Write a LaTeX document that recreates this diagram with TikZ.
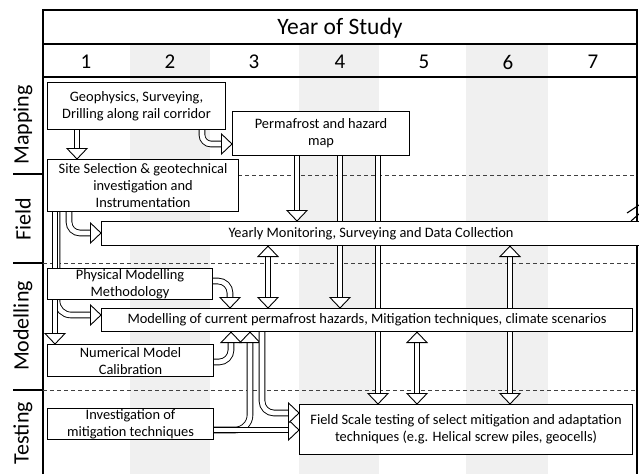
\documentclass[tikz,border=0pt]{standalone}
\usepackage{fontspec}
\setmainfont{Carlito}
\usetikzlibrary{calc}
\tikzset{
  box/.style={draw, line width=1.1pt, fill=white, align=center, inner sep=0pt,
    anchor=north west, font=\fontsize{14.4}{17}\selectfont},
  shaft/.style={line width=0.9pt, double=white, double distance=4.8pt},
  headst/.style={line width=0.9pt, fill=white, draw=black, line join=miter},
  lane/.style={rotate=90, font=\fontsize{22}{24}\selectfont},
  sepline/.style={dash pattern=on 4pt off 3pt, line width=0.7pt, draw=black!75},
  frame/.style={line width=1.4pt},
  stripe/.style={fill=black!6, draw=none},
  hnum/.style={font=\fontsize{21}{24}\selectfont},
}
\newcommand\hdD[1]{\filldraw[headst] (#1) -- ++(-10,-10.5) -- ++(20,0) -- cycle;}
\newcommand\hdU[1]{\filldraw[headst] (#1) -- ++(-10,10.5) -- ++(20,0) -- cycle;}
\newcommand\hdR[1]{\filldraw[headst] (#1) -- ++(-10.5,-10) -- ++(0,20) -- cycle;}
\begin{document}
\begin{tikzpicture}[x=1pt, y=-1pt]
\useasboundingbox (0,0) rectangle (639,474);
% column stripes
\fill[stripe] (130,44) rectangle (210,474);
\fill[stripe] (299,44) rectangle (379,474);
\fill[stripe] (466,44) rectangle (548,474);
% frame
\draw[frame] (43,474) -- (43,10) -- (637,10) -- (637,474);
\draw[frame] (43,44) -- (637,44);
\draw[frame] (43,77) -- (637,77);
\node[font=\fontsize{23.5}{26}\selectfont] (title) at (340,28) {Year of Study};
\node[hnum] (y1) at (86,62) {1};
\node[hnum] (y2) at (170,62) {2};
\node[hnum] (y3) at (254,62) {3};
\node[hnum] (y4) at (340,62) {4};
\node[hnum] (y5) at (424,62) {5};
\node[hnum] (y6) at (508,62) {6};
\node[hnum] (y7) at (593,62) {7};
% lane labels
\node[lane] (lmap) at (23,125) {Mapping};
\node[lane] (lfield) at (23,219) {Field};
\node[lane] (lmod) at (23,326) {Modelling};
\node[lane] (ltest) at (23,433) {Testing};
\draw[line width=1.1pt] (13,174) -- (43,174);
\draw[line width=1.1pt] (13,263) -- (43,263);
\draw[line width=1.1pt] (13,390) -- (43,390);
% dashed lane separators
\draw[sepline] (238,175) -- (637,175);
\draw[sepline] (43,263) -- (637,263);
\draw[sepline] (43,390) -- (637,390);
% box frames (anchors only; drawn later on top of the arrows)
\node[box, draw=none, fill=none, minimum width=178pt, minimum height=47pt] (geo) at (47,82) {};
\node[box, draw=none, fill=none, minimum width=177pt, minimum height=44pt] (perm) at (232,111) {};
\node[box, draw=none, fill=none, minimum width=191pt, minimum height=52pt] (site) at (47,159) {};
\node[box, draw=none, fill=none, minimum width=539pt, minimum height=24pt] (year) at (101,221) {};
\node[box, draw=none, fill=none, minimum width=165pt, minimum height=31pt] (phys) at (47,268) {};
\node[box, draw=none, fill=none, minimum width=531pt, minimum height=23pt] (model) at (101,308) {};
\node[box, draw=none, fill=none, minimum width=166pt, minimum height=32pt] (num) at (47,344) {};
\node[box, draw=none, fill=none, minimum width=166pt, minimum height=31pt] (inv) at (47,408) {};
\node[box, draw=none, fill=none, minimum width=333pt, minimum height=50pt] (fst) at (299,404) {};
% arrows
% geo -> site
\draw[shaft, shorten >=8pt] (77,0 |- geo.south) -- (77,0 |- site.north); \hdD{77,0 |- site.north}
% geo -> perm
\draw[shaft, rounded corners=9pt, shorten >=8pt] (202,0 |- geo.south) -- (202,144) -- (perm.west |- 0,144); \hdR{perm.west |- 0,144}
% perm -> year, model, fst
\draw[shaft, shorten >=8pt] (297,0 |- perm.south) -- (297,0 |- year.north); \hdD{297,0 |- year.north}
\draw[shaft, shorten >=8pt] (340,0 |- perm.south) -- (340,0 |- model.north); \hdD{340,0 |- model.north}
\draw[shaft, shorten >=8pt] (378,0 |- perm.south) -- (378,0 |- fst.north); \hdD{378,0 |- fst.north}
% site -> year
\draw[shaft, rounded corners=11pt, shorten >=8pt] (69,0 |- site.south) -- (69,233) -- (year.west |- 0,233); \hdR{year.west |- 0,233}
% site -> model
\draw[shaft, rounded corners=14pt, shorten >=8pt] (57,0 |- site.south) -- (57,315) -- (model.west |- 0,315); \hdR{model.west |- 0,315}
% site -> num
\draw[shaft, shorten >=8pt] (55,0 |- site.south) -- (55,0 |- num.north); \hdD{55,0 |- num.north}
% double arrows
\draw[shaft, shorten >=8pt, shorten <=8pt] (268,0 |- year.south) -- (268,0 |- model.north); \hdU{268,0 |- year.south} \hdD{268,0 |- model.north}
\draw[shaft, shorten >=8pt, shorten <=8pt] (510,0 |- year.south) -- (510,0 |- fst.north); \hdU{510,0 |- year.south} \hdD{510,0 |- fst.north}
\draw[shaft, shorten >=8pt, shorten <=8pt] (417,0 |- model.south) -- (417,0 |- fst.north); \hdU{417,0 |- model.south} \hdD{417,0 |- fst.north}
% phys -> model
\draw[shaft, rounded corners=12pt, shorten >=8pt] (phys.east |- 0,281) -- (230,281) -- (230,0 |- model.north); \hdD{230,0 |- model.north}
% num -> model
\draw[shaft, rounded corners=12pt, shorten >=8pt] (num.east |- 0,362) -- (231,362) -- (231,0 |- model.south); \hdU{231,0 |- model.south}
% inv -> model
\draw[shaft, rounded corners=15pt, shorten >=8pt] (inv.east |- 0,430) -- (250,430) -- (250,0 |- model.south); \hdU{250,0 |- model.south}
% inv -> fst
\draw[shaft, shorten >=8pt] (inv.east |- 0,430) -- (fst.west |- 0,430); \hdR{fst.west |- 0,430}
% model -> fst
\draw[shaft, rounded corners=12pt, shorten >=8pt] (262,0 |- model.south) -- (262,413) -- (fst.west |- 0,413); \hdR{fst.west |- 0,413}
% edge mark
\draw[line width=1.1pt] (627,213) -- (639,205);
\draw[line width=1.1pt] (631,221) -- (639,214);
% visible boxes
\node[box, minimum width=178pt, minimum height=47pt] (geoB) at (geo.north west) {Geophysics, Surveying,\\Drilling along rail corridor};
\node[box, minimum width=177pt, minimum height=44pt] (permB) at (perm.north west) {Permafrost and hazard\\map};
\node[box, minimum width=191pt, minimum height=52pt] (siteB) at (site.north west) {Site Selection \& geotechnical\\investigation and\\Instrumentation};
\node[box, minimum width=539pt, minimum height=24pt] (yearB) at (year.north west) {Yearly Monitoring, Surveying and Data Collection};
\node[box, minimum width=165pt, minimum height=31pt] (physB) at (phys.north west) {Physical Modelling\\Methodology};
\node[box, minimum width=531pt, minimum height=23pt] (modelB) at (model.north west) {Modelling of current permafrost hazards, Mitigation techniques, climate scenarios};
\node[box, minimum width=166pt, minimum height=32pt] (numB) at (num.north west) {Numerical Model\\Calibration};
\node[box, minimum width=166pt, minimum height=31pt] (invB) at (inv.north west) {Investigation of\\mitigation techniques};
\node[box, minimum width=333pt, minimum height=50pt] (fstB) at (fst.north west) {Field Scale testing of select mitigation and adaptation\\techniques (e.g. Helical screw piles, geocells)};
\end{tikzpicture}
\end{document}
